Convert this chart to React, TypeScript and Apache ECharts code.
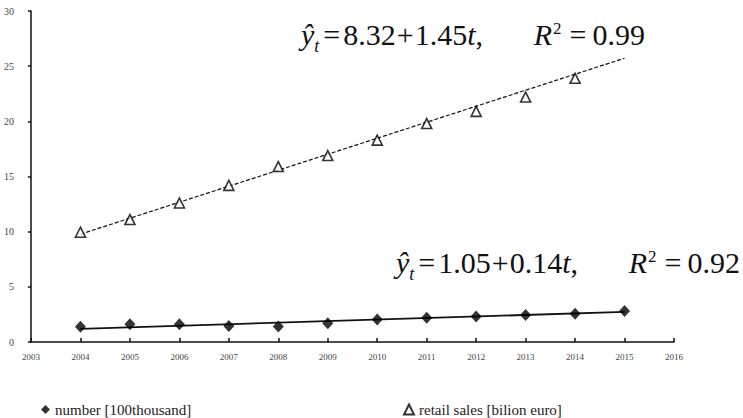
import React, { useEffect, useRef } from "react";
import * as echarts from "echarts";

// Years observed (t = 1 … 12)
const years = [2004, 2005, 2006, 2007, 2008, 2009, 2010, 2011, 2012, 2013, 2014, 2015];
// Number of shops [100 thousand]
const numberValues = [1.38, 1.6, 1.6, 1.45, 1.4, 1.7, 2.05, 2.2, 2.3, 2.45, 2.55, 2.8];
// Retail sales [billion euro]
const salesValues = [9.95, 11.1, 12.6, 14.2, 15.9, 16.9, 18.3, 19.8, 20.9, 22.2, 23.9];

// Linear trend coefficients [intercept, slope] and R² as printed on the chart
const numberTrend = [1.05, 0.14];
const salesTrend = [8.32, 1.45];
const numberR2 = "0.92";
const salesR2 = "0.99";

const yTicks = [0, 5, 10, 15, 20, 25, 30];
const xRange = [2003, 2016];

const numberName = "number [100thousand]";
const salesName = "retail sales [bilion euro]";

const SERIF = "Liberation Serif";

function trendEnds(coef: number[]) {
  const first = years[0];
  const last = years[years.length - 1];
  const t1 = 1;
  const t2 = last - first + 1;
  return [
    [first, coef[0] + coef[1] * t1],
    [last, coef[0] + coef[1] * t2],
  ];
}

// Advance widths (in em) of the Times-metric glyphs used in the equations
const EM: Record<string, number> = {
  "0": 0.5, "1": 0.5, "2": 0.5, "3": 0.5, "4": 0.5, "5": 0.5, "6": 0.5, "7": 0.5, "8": 0.5, "9": 0.5,
  ".": 0.25, ",": 0.25, "+": 0.564, "=": 0.564, "t": 0.278, "R": 0.611, "ŷ": 0.444,
};
function textWidth(text: string, size: number) {
  let w = 0;
  for (const ch of text) w += (EM[ch] ?? 0.5) * size;
  return w;
}

type Piece = { text: string; size: number; italic?: boolean; shift?: number; gap?: number };

function pieceEl(p: Piece, x: number, baseline: number) {
  const base = baseline + (p.shift || 0);
  return {
    type: "text",
    x,
    y: base - 0.34 * p.size,
    style: {
      text: p.text,
      fontFamily: SERIF,
      fontSize: p.size,
      fontStyle: p.italic ? "italic" : "normal",
      fill: "#111",
      verticalAlign: "middle",
      align: "left",
    },
  };
}

function layRow(pieces: Piece[], x: number, baseline: number) {
  let cx = x;
  const out: any[] = [];
  for (const p of pieces) {
    out.push(pieceEl(p, cx, baseline));
    cx += textWidth(p.text, p.size) + (p.gap || 0);
  }
  return { els: out, width: cx - x };
}

// Regression equation "ŷt = a + bt,  R² = r": left part starts at x, R² part ends at right
function equationGraphic(x: number, right: number, baseline: number, coef: number[], r2: string) {
  const left: Piece[] = [
    { text: "ŷ", size: 30, italic: true },
    { text: "t", size: 18, italic: true, shift: 7, gap: 4 },
    { text: "=", size: 30, gap: 3 },
    { text: coef[0].toFixed(2), size: 30, gap: 1 },
    { text: "+", size: 30, gap: 1 },
    { text: coef[1].toFixed(2), size: 30 },
    { text: "t", size: 30, italic: true },
    { text: ",", size: 30 },
  ];
  const rightPart: Piece[] = [
    { text: "R", size: 30, italic: true, gap: 1 },
    { text: "2", size: 17, shift: -11, gap: 8 },
    { text: "=", size: 30, gap: 6 },
    { text: r2, size: 30 },
  ];
  const a = layRow(left, x, baseline);
  const probe = layRow(rightPart, 0, baseline);
  const b = layRow(rightPart, right - probe.width, baseline);
  return { type: "group", children: [...a.els, ...b.els] };
}

const legendText = { fontFamily: SERIF, fontSize: 15, color: "#222" };

export default function App() {
  const ref = useRef<HTMLDivElement>(null);

  useEffect(() => {
    if (!ref.current) return;
    const chart = echarts.init(ref.current, undefined, { renderer: "svg" });

    chart.setOption({
      animation: false,
      backgroundColor: "#ffffff",
      textStyle: { fontFamily: SERIF },
      grid: { left: 31, right: 69, top: 11, bottom: 76 },
      xAxis: {
        type: "value",
        min: xRange[0],
        max: xRange[1],
        interval: 1,
        splitLine: { show: false },
        axisLine: { lineStyle: { color: "#111", width: 1.5 } },
        axisTick: { inside: true, length: 4, lineStyle: { color: "#111", width: 1.5 } },
        axisLabel: {
          fontFamily: SERIF,
          fontSize: 9,
          color: "#444",
          margin: 10,
          formatter: (v: number) => String(v),
        },
      },
      yAxis: {
        type: "value",
        min: yTicks[0],
        max: yTicks[yTicks.length - 1],
        interval: 5,
        splitLine: { show: false },
        axisLine: { show: true, lineStyle: { color: "#111", width: 1.5 } },
        axisTick: { show: true, length: 3, lineStyle: { color: "#111", width: 1.5 } },
        axisLabel: { fontFamily: SERIF, fontSize: 10, color: "#444", margin: 17 },
      },
      legend: [
        {
          left: 36,
          top: 397,
          itemWidth: 9,
          itemHeight: 9,
          itemGap: 4,
          data: [{ name: numberName, icon: "diamond" }],
          textStyle: legendText,
        },
        {
          left: 398,
          top: 397,
          itemWidth: 10,
          itemHeight: 10,
          data: [{ name: salesName, icon: "triangle" }],
          textStyle: legendText,
        },
      ],
      series: [
        {
          name: numberName + " trend",
          type: "line",
          data: trendEnds(numberTrend),
          showSymbol: false,
          lineStyle: { color: "#111", width: 1.8 },
          z: 2,
        },
        {
          name: salesName + " trend",
          type: "line",
          data: trendEnds(salesTrend),
          showSymbol: false,
          lineStyle: { color: "#111", width: 1.2, type: [4, 2] },
          z: 2,
        },
        {
          name: numberName,
          type: "scatter",
          data: years.map((y, i) => [y, numberValues[i]]),
          symbol: "diamond",
          symbolSize: [11, 12],
          itemStyle: { color: "#000" },
          z: 3,
        },
        {
          name: salesName,
          type: "scatter",
          data: salesValues.map((v, i) => [years[i], v]),
          symbol: "triangle",
          symbolSize: [10, 10],
          itemStyle: { color: "#fff", borderColor: "#000", borderWidth: 1.6 },
          z: 3,
        },
      ],
      graphic: [
        equationGraphic(301, 645, 45, salesTrend, salesR2),
        equationGraphic(396, 740, 273, numberTrend, numberR2),
      ],
    });

    return () => chart.dispose();
  }, []);

  return (
    <div
      ref={ref}
      style={{ position: "fixed", left: 0, top: 0, width: 743, height: 418, background: "#fff" }}
    />
  );
}
